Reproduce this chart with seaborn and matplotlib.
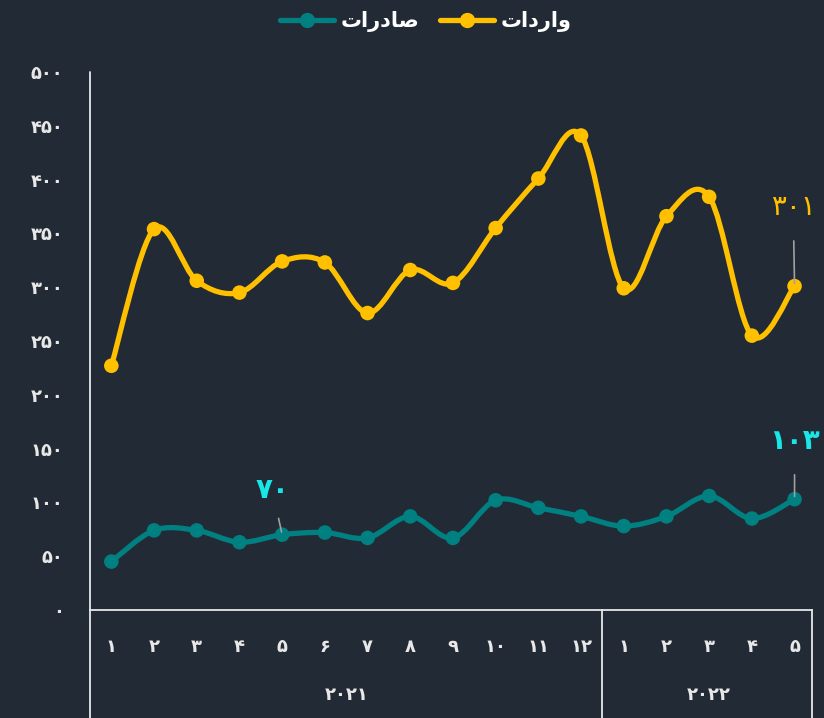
"""Monthly imports / exports line chart (dark theme, Persian labels)."""
import matplotlib
matplotlib.use("Agg")
import matplotlib.pyplot as plt
from matplotlib.lines import Line2D
from matplotlib.path import Path
from matplotlib.patches import PathPatch
import numpy as np
import pandas as pd
import seaborn as sns

# ---- data ----
months = [1, 2, 3, 4, 5, 6, 7, 8, 9, 10, 11, 12, 1, 2, 3, 4, 5]
years = ["2021"] * 12 + ["2022"] * 5
imports = [227, 354, 306, 295, 324, 323, 276, 316, 304, 355, 401, 441,
           299, 366, 384, 255, 301]
exports = [45, 74, 74, 63, 70, 72, 67, 87, 67, 102, 95, 87,
           78, 87, 106, 85, 103]
yticks = [0, 50, 100, 150, 200, 250, 300, 350, 400, 450, 500]

# labels: Persian digits; words given in visual (left-to-right) glyph order
FA = str.maketrans("0123456789", "۰۱۲۳۴۵۶۷۸۹")
def fa(v):
    return str(v).translate(FA)
lbl_imp = "تادراو"                      # واردات
lbl_exp = "تارد\uFE8E\uFEBB"            # صادرات

BG = "#222a35"
FG = "#e8e8e8"
YEL = "#ffc000"
TEAL = "#008080"
CYAN = "#19e6e6"

sns.set_style("dark", {"axes.facecolor": BG, "figure.facecolor": BG})
plt.rcParams["font.family"] = ["DejaVu Sans"]

df = pd.DataFrame({"i": np.arange(1, len(months) + 1), "imp": imports,
                   "exp": exports})

fig = plt.figure(figsize=(8.24, 7.18), dpi=100)
ax = fig.add_axes([0.1092, 0.1504, 0.8758, 0.7493])
ax.set_facecolor(BG)


def smooth(ax, x, y, color, lw):
    # Catmull-Rom style smoothing drawn as cubic bezier segments
    x = np.asarray(x, float)
    y = np.asarray(y, float)
    n = len(x)
    verts = [(x[0], y[0])]
    codes = [Path.MOVETO]
    for k in range(n - 1):
        p0 = max(k - 1, 0)
        p3 = min(k + 2, n - 1)
        c1 = (x[k] + (x[k + 1] - x[p0]) / 6, y[k] + (y[k + 1] - y[p0]) / 6)
        c2 = (x[k + 1] - (x[p3] - x[k]) / 6, y[k + 1] - (y[p3] - y[k]) / 6)
        verts += [c1, c2, (x[k + 1], y[k + 1])]
        codes += [Path.CURVE4] * 3
    ax.add_patch(PathPatch(Path(verts, codes), fill=False, edgecolor=color,
                           lw=lw, capstyle="round", joinstyle="round"))


smooth(ax, df["i"], df["imp"], YEL, 3.8)
smooth(ax, df["i"], df["exp"], TEAL, 3.8)
sns.scatterplot(data=df, x="i", y="imp", ax=ax, color=YEL, s=110,
                edgecolor="none", zorder=3)
sns.scatterplot(data=df, x="i", y="exp", ax=ax, color=TEAL, s=110,
                edgecolor="none", zorder=3)

ax.set_xlim(0.5, len(months) + 0.4)
ax.set_ylim(0, 500)
ax.set_xlabel("")
ax.set_ylabel("")
ax.set_yticks(yticks)
ax.set_yticklabels([fa(v) for v in yticks], color=FG, fontsize=13,
                   fontweight="bold")
ax.set_xticks(df["i"])
ax.set_xticklabels([fa(m) for m in months], color=FG, fontsize=13,
                   fontweight="bold")
ax.tick_params(axis="y", length=0, pad=19)
ax.tick_params(axis="x", length=0, pad=20)
ax.grid(False)
for s in ["top", "right"]:
    ax.spines[s].set_visible(False)
ax.spines["left"].set_visible(False)
ax.spines["bottom"].set_color(FG)
ax.spines["bottom"].set_linewidth(1.3)

# grouped category axis (year boxes)
tr = ax.get_xaxis_transform()
x0, x1 = ax.get_xlim()
for xv in [x0, 12.5, x1]:
    ax.plot([xv, xv], [0, -0.2], transform=tr, color=FG, lw=1.3,
            clip_on=False)
ax.plot([x0, x0], [0, 1], transform=tr, color=FG, lw=1.3, clip_on=False)
for yr in sorted(set(years)):
    idx = [k + 1 for k, v in enumerate(years) if v == yr]
    ax.text(np.mean(idx), -0.158, fa(yr), transform=tr, ha="center",
            va="center", color=FG, fontsize=13, fontweight="bold")

# value callouts
ap = dict(arrowstyle="-", color="#a0a0a0", lw=1.2, shrinkA=12, shrinkB=2)
ax.annotate(fa(imports[-1]), (17, imports[-1]), xytext=(-1, 57),
            textcoords="offset points", ha="center", va="center",
            color=YEL, fontsize=20, arrowprops=ap)
ax.annotate(fa(exports[-1]), (17, exports[-1]), xytext=(0, 42),
            textcoords="offset points", ha="center", va="center",
            color=CYAN, fontsize=20, fontweight="bold", arrowprops=ap)
ax.annotate(fa(exports[4]), (5, exports[4]), xytext=(-7, 32),
            textcoords="offset points", ha="center", va="center",
            color=CYAN, fontsize=20, fontweight="bold",
            arrowprops=dict(ap, shrinkA=8))

handles = [Line2D([], [], color=TEAL, lw=3.8, marker="o", markersize=10),
           Line2D([], [], color=YEL, lw=3.8, marker="o", markersize=10)]
leg = fig.legend(handles, [lbl_exp, lbl_imp], loc="center",
                 bbox_to_anchor=(0.517, 0.970), ncol=2, frameon=False,
                 handlelength=2.6, handletextpad=0.3, columnspacing=1.0,
                 prop={"size": 15, "weight": "bold"})
for t in leg.get_texts():
    t.set_color("white")

fig.savefig("out.png", dpi=100, facecolor=BG)
